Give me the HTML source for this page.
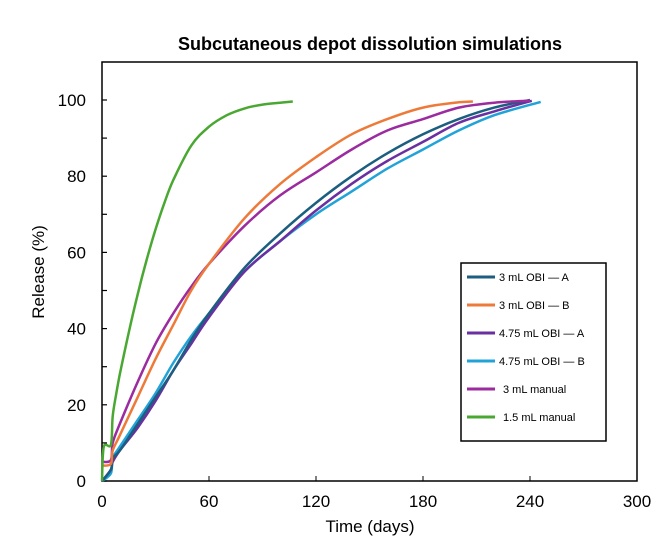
<!DOCTYPE html>
<html><head><meta charset="utf-8">
<style>
body{margin:0;background:#fff;}
svg{display:block;font-family:"Liberation Sans",Arial,sans-serif;}
</style></head>
<body>
<svg id="chart" width="662" height="549" xmlns="http://www.w3.org/2000/svg">
<text x="370" y="50" text-anchor="middle" font-size="18" font-weight="bold" fill="#000">Subcutaneous depot dissolution simulations</text>
<rect x="102" y="62" width="535" height="419" fill="none" stroke="#000" stroke-width="1.5"/>
<g id="axes"></g>
<g id="series"></g>
<text x="370" y="532" text-anchor="middle" font-size="17">Time (days)</text>
<text transform="translate(44,272) rotate(-90)" text-anchor="middle" font-size="17">Release (%)</text>
<g>
<rect x="461" y="263" width="145" height="178" fill="#fff" stroke="#000" stroke-width="1.5"/>
<g id="legend"></g>
</g>
</svg>
<script>
const xTicks=[0,60,120,180,240,300];
const yTicks=[0,20,40,60,80,100];
const seriesNames=["3 mL OBI — A","3 mL OBI — B","4.75 mL OBI — A","4.75 mL OBI — B","3 mL manual","1.5 mL manual"];
const seriesColors=["#1b5e7f","#ee7a3a","#6a2fa0","#22a3d8","#9b2b9e","#4aa832"];
const timeA=[0,5,6,10,20,30,40,50,60,80,100,120,140,160,180,200,220,240];
const relA=[0,3,6,8,15,22,29,37,44,56,65,73,80,86,91,95,98,100];
const timeB=[0,5,6,10,20,30,40,50,60,80,100,120,140,160,180,200,208];
const relB=[4,4.5,8,12,22,32,41,50,57,69,78,85,91,95,98,99.4,99.6];
const timeC=[0,5,6,10,20,30,40,50,60,80,100,120,140,160,180,200,220,241];
const relC=[0,3,5,8,14,21,29,36,43,55,63,71,78,84,89,94,97,99.8];
const timeD=[0,5,6,10,20,30,40,50,60,80,100,120,140,160,180,200,220,246];
const relD=[0,2,6,9,16,23,31,38,44,55,63,70,76,82,87,92,96,99.5];
const timeE=[0,5,6,10,20,30,40,50,60,80,100,120,140,160,180,200,220,240];
const relE=[5,5.5,10,15,26,36,44,51,57,67,75,81,87,92,95,98,99.3,99.8];
const timeF=[0,1,5,6,8,10,15,20,25,30,35,40,50,60,70,80,90,100,107];
const relF=[0,9,9.5,17,23,28,39,49,58,66,73,79,88,93,96,97.8,98.8,99.3,99.6];
const seriesTimes=[timeA,timeB,timeC,timeD,timeE,timeF];
const seriesRels=[relA,relB,relC,relD,relE,relF];
const NS="http://www.w3.org/2000/svg";
const X0=102,X1=637,Y0=481,YM=100;
function xs(t){return X0+(X1-X0)*t/300;}
function ys(v){return Y0-(Y0-YM)*v/100;}
function smoothPath(pts){
  let d='M'+pts[0][0].toFixed(1)+','+pts[0][1].toFixed(1);
  for(let i=0;i<pts.length-1;i++){
    const p0=pts[Math.max(0,i-1)],p1=pts[i],p2=pts[i+1],p3=pts[Math.min(pts.length-1,i+2)];
    const c1=[p1[0]+(p2[0]-p0[0])/6,p1[1]+(p2[1]-p0[1])/6];
    const c2=[p2[0]-(p3[0]-p1[0])/6,p2[1]-(p3[1]-p1[1])/6];
    d+=' C'+c1[0].toFixed(1)+','+c1[1].toFixed(1)+' '+c2[0].toFixed(1)+','+c2[1].toFixed(1)+' '+p2[0].toFixed(1)+','+p2[1].toFixed(1);
  }
  return d;
}
const axes=document.getElementById('axes');
xTicks.forEach(t=>{
  const tx=document.createElementNS(NS,'text');
  tx.setAttribute('x',xs(t));tx.setAttribute('y',507);tx.setAttribute('text-anchor','middle');tx.setAttribute('font-size','17');
  tx.textContent=t;
  
  
  axes.appendChild(tx);
  const l=document.createElementNS(NS,'line');
  l.setAttribute('x1',xs(t));l.setAttribute('x2',xs(t));l.setAttribute('y1',Y0);l.setAttribute('y2',Y0-5);l.setAttribute('stroke','#000');
  
  
  axes.appendChild(l);
});
for(let v=0;v<=100;v+=10){
  const l=document.createElementNS(NS,'line');
  l.setAttribute('x1',X0);l.setAttribute('x2',X0+5);l.setAttribute('y1',ys(v));l.setAttribute('y2',ys(v));l.setAttribute('stroke','#000');l.setAttribute('stroke-width','1.2');
  
  
  axes.appendChild(l);
}
yTicks.forEach(v=>{
  const tx=document.createElementNS(NS,'text');
  tx.setAttribute('x',86);tx.setAttribute('y',ys(v)+6);tx.setAttribute('text-anchor','end');tx.setAttribute('font-size','17');
  tx.textContent=v;
  
  
  axes.appendChild(tx);
});
const sg=document.getElementById('series');
const order=[3,2,0,4,1,5];
order.forEach(i=>{
  const ts=seriesTimes[i],rs=seriesRels[i];
  const pts=ts.map((t,k)=>[xs(t),ys(rs[k])]);
  const p=document.createElementNS(NS,'path');
  p.setAttribute('d',smoothPath(pts));p.setAttribute('fill','none');p.setAttribute('stroke',seriesColors[i]);p.setAttribute('stroke-width','2.5');p.setAttribute('stroke-linejoin','round');
  
  
  sg.appendChild(p);
});
const lg=document.getElementById('legend');
seriesNames.forEach((n,i)=>{
  const y=277+i*28;
  const l=document.createElementNS(NS,'line');
  l.setAttribute('x1',467);l.setAttribute('x2',495);l.setAttribute('y1',y);l.setAttribute('y2',y);l.setAttribute('stroke',seriesColors[i]);l.setAttribute('stroke-width','3');
  
  
  lg.appendChild(l);
  const tx=document.createElementNS(NS,'text');
  tx.setAttribute('x',i>=4?503:499);tx.setAttribute('y',y+4);tx.setAttribute('font-size','11');
  tx.textContent=n;
  
  
  lg.appendChild(tx);
});
</script>
</body></html>
